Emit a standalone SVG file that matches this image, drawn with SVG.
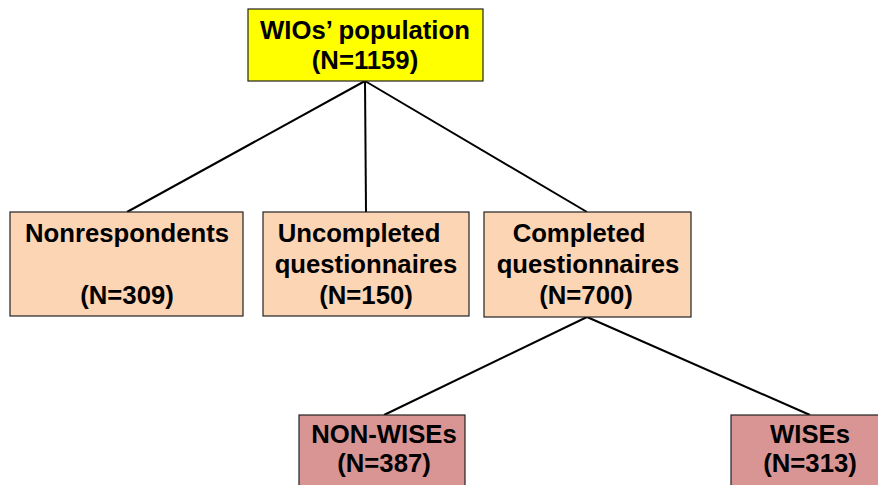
<svg xmlns="http://www.w3.org/2000/svg" width="878" height="485" viewBox="0 0 878 485">
<style>
.box{stroke:#222;stroke-width:1.2}
.y{fill:#ffff00}
.o{fill:#fcd5b5}
.p{fill:#d99594}
text{font-family:"Liberation Sans",Arial,sans-serif;font-weight:bold;font-size:25.7px;fill:#000;text-anchor:middle}
.con{stroke:#000;stroke-width:2;fill:none}
</style>
<rect width="878" height="485" fill="#fff"/>
<g id="connectors">
<line class="con" x1="365" y1="81" x2="127" y2="212"/>
<line class="con" x1="365" y1="81" x2="366" y2="212"/>
<line class="con" x1="365" y1="81" x2="587" y2="212"/>
<line class="con" x1="587" y1="317" x2="384" y2="415"/>
<line class="con" x1="587" y1="317" x2="810" y2="415"/>
</g>
<g id="population">
<rect class="box y" x="248" y="9" width="235" height="72"/>
<text x="365" y="39">WIOs’ population</text>
<text x="365" y="69">(N=1159)</text>
</g>
<g id="nonrespondents">
<rect class="box o" x="10" y="212" width="233" height="104"/>
<text x="127" y="242">Nonrespondents</text>
<text x="127" y="304">(N=309)</text>
</g>
<g id="uncompleted">
<rect class="box o" x="263" y="212" width="206" height="104"/>
<text x="359" y="242">Uncompleted</text>
<text x="366" y="273">questionnaires</text>
<text x="366" y="304">(N=150)</text>
</g>
<g id="completed">
<rect class="box o" x="484" y="212" width="207" height="105"/>
<text x="579" y="242">Completed</text>
<text x="588" y="273">questionnaires</text>
<text x="586" y="304">(N=700)</text>
</g>
<g id="nonwises">
<rect class="box p" x="299" y="415" width="166" height="80"/>
<text x="384" y="443">NON-WISEs</text>
<text x="384" y="472">(N=387)</text>
</g>
<g id="wises">
<rect class="box p" x="731" y="415" width="160" height="80"/>
<text x="810" y="443">WISEs</text>
<text x="810" y="472">(N=313)</text>
</g>
</svg>
